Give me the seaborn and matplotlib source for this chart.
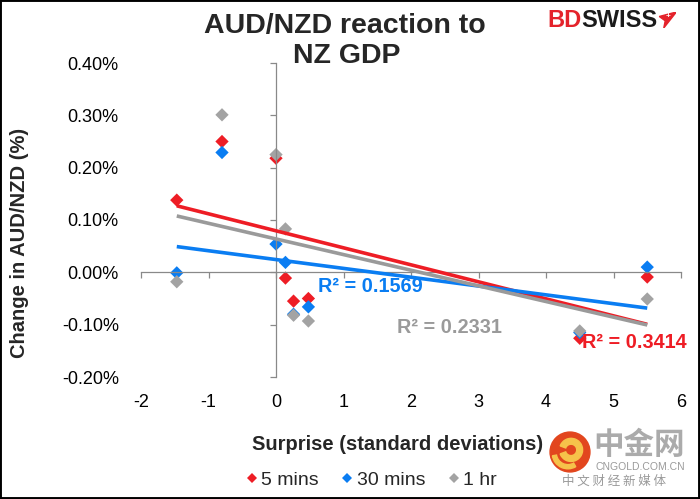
import matplotlib
matplotlib.use("Agg")
import matplotlib.pyplot as plt
from matplotlib.patches import Rectangle, Circle, Wedge, Polygon
import seaborn as sns
import pandas as pd

# ---- data ----
surprise = [-1.47, -0.8, 0.0, 0.14, 0.26, 0.48, 4.5, 5.5]
mins5 = [0.138, 0.250, 0.218, -0.011, -0.055, -0.050, -0.126, -0.009]
mins30 = [-0.001, 0.229, 0.054, 0.019, -0.080, -0.066, -0.115, 0.010]
hr1 = [-0.018, 0.301, 0.225, 0.083, -0.082, -0.093, -0.112, -0.051]
series_names = ["5 mins", "30 mins", "1 hr"]
r2_labels = ["R² = 0.3414", "R² = 0.1569", "R² = 0.2331"]
x_ticks = [-2, -1, 0, 1, 2, 3, 4, 5, 6]
y_ticks = [-0.2, -0.1, 0.0, 0.1, 0.2, 0.3, 0.4]
title_lines = ["AUD/NZD reaction to", "NZ GDP"]

colors = {"5 mins": "#EE1D25", "30 mins": "#0A7DF2", "1 hr": "#A3A3A3"}
line_colors = {"5 mins": "#EE1D25", "30 mins": "#0A7DF2", "1 hr": "#9A9A9A"}

sns.set_style("white")
plt.rcParams["font.family"] = ["Liberation Sans", "Noto Sans CJK SC", "DejaVu Sans"]

df = pd.DataFrame({
    "surprise": surprise * 3,
    "change": mins5 + mins30 + hr1,
    "series": [s for s in series_names for _ in surprise],
})

fig = plt.figure(figsize=(7.0, 4.99), dpi=100)
ax = fig.add_axes([141 / 700, 1 - 377 / 499, 540 / 700, 314 / 499])

sns.scatterplot(data=df, x="surprise", y="change", hue="series",
                palette=colors, marker="D", s=46, edgecolor="none",
                linewidth=0, ax=ax, zorder=2)

for name in series_names:
    sub = df[df["series"] == name]
    sns.regplot(data=sub, x="surprise", y="change", scatter=False, ci=None,
                truncate=True, color=line_colors[name],
                line_kws={"lw": 2.6, "zorder": 3, "solid_capstyle": "butt"}, ax=ax)

ax.set_xlim(-2, 6)
ax.set_ylim(-0.2, 0.4)
ax.set_xticks(x_ticks)
ax.set_yticks(y_ticks)

axis_col = "#898989"
for side in ["top", "right"]:
    ax.spines[side].set_visible(False)
ax.spines["left"].set_position(("data", 0))
ax.spines["bottom"].set_position(("data", 0))
for side in ["left", "bottom"]:
    ax.spines[side].set_color(axis_col)
    ax.spines[side].set_linewidth(0.9)
ax.tick_params(axis="both", direction="out", length=4, width=0.9,
               color=axis_col, labelbottom=False, labelleft=False,
               bottom=True, left=True)

# axis titles
ax.set_xlabel("Surprise (standard deviations)", fontsize=14.5, fontweight="bold")
ax.xaxis.set_label_coords((398 - 141) / 540, (377 - 435) / 314)
ax.set_ylabel("Change in AUD/NZD (%)", fontsize=14.5, fontweight="bold")
ax.yaxis.set_label_coords((29 - 141) / 540, (377 - 243) / 314)

# tick labels at the low (outer) position
secx = ax.secondary_xaxis("bottom")
secx.set_xticks(x_ticks)
secx.set_xticklabels([str(t) for t in x_ticks])
secx.spines["bottom"].set_visible(False)
secx.tick_params(length=0, labelsize=13, pad=12, labelcolor="black")

secy = ax.secondary_yaxis("left")
secy.set_yticks(y_ticks)
secy.set_yticklabels([f"{t:.2f}%" for t in y_ticks])
secy.spines["left"].set_visible(False)
secy.tick_params(length=0, labelsize=13, pad=16, labelcolor="black")

# R² labels
r2_pos = [(4.53, -0.135), (0.62, -0.028), (1.79, -0.105)]
for name, lab, (xx, yy) in zip(series_names, r2_labels, r2_pos):
    ax.text(xx, yy, lab, color=line_colors[name], fontsize=14.3, fontweight="bold",
            ha="left", va="center", zorder=4)

# legend
handles, labels = ax.get_legend_handles_labels()
ax.legend(handles, labels, loc="center", bbox_to_anchor=(370 / 700, 1 - 480 / 499),
          bbox_transform=fig.transFigure, ncol=3, frameon=False,
          handletextpad=0.05, columnspacing=1.0, markerscale=0.68,
          fontsize=14, handlelength=0.9)

# title (two centred lines)
fig.text(345 / 700, 1 - 33 / 499, title_lines[0], ha="center", va="baseline",
         fontsize=20.5, fontweight="bold")
fig.text(347 / 700, 1 - 63 / 499, title_lines[1], ha="center", va="baseline",
         fontsize=20.5, fontweight="bold")

# BDSWISS logo
t_bd = fig.text(547 / 700, 1 - 27 / 499, "BD", color="#E4232B", fontsize=17,
                fontweight="bold", ha="left", va="baseline")
t_sw = fig.text(0, 0, "SWISS", color="#1A1A1A", fontsize=17, fontweight="bold",
                ha="left", va="baseline")
fig.canvas.draw()
bb = t_bd.get_window_extent()
t_sw.set_position((bb.x1 / 700, 1 - 27 / 499))
fig.canvas.draw()
bb2 = t_sw.get_window_extent()
iax = fig.add_axes([(bb2.x1 + 1) / 700, 1 - 28 / 499, 18 / 700, 16 / 499])
iax.set_xlim(0, 1)
iax.set_ylim(0, 1)
iax.axis("off")
iax.add_patch(Polygon([(0.05, 0.72), (1.0, 1.0), (0.3, 0.0), (0.38, 0.45)],
                      closed=True, color="#E4232B"))
iax.text(0.55, 0.72, "+", color="white", fontsize=6, fontweight="bold",
         ha="center", va="center")

# watermark (cngold)
lax = fig.add_axes([549 / 700, 1 - 473 / 499, 42 / 700, 42 / 499])
lax.set_xlim(-1, 1)
lax.set_ylim(-1, 1)
lax.set_aspect("equal")
lax.axis("off")
lax.add_patch(Circle((0, 0), 0.95, color="#E2461E"))
lax.add_patch(Wedge((0.05, 0.1), 0.55, 200, 520, width=0.28, color="#F6C24A"))
lax.add_patch(Wedge((-0.1, -0.05), 0.75, 190, 300, width=0.2, color="#F6C24A"))
fig.text(639 / 700, 1 - 445 / 499, "中金网", color="#ABABAB", fontsize=22,
         fontweight="bold", ha="center", va="center", family=["Noto Sans CJK SC"])
fig.text(640 / 700, 1 - 467 / 499, "CNGOLD.COM.CN", color="#9A9A9A", fontsize=7.5,
         ha="center", va="center")
fig.text(614 / 700, 1 - 481 / 499, "中 文 财 经 新 媒 体", color="#9A9A9A", fontsize=9,
         ha="center", va="center", family=["Noto Sans CJK SC"])

# border
fig.add_artist(Rectangle((0, 0), 1, 1, transform=fig.transFigure, fill=False,
                         edgecolor="black", linewidth=2.8))

fig.savefig("out.png", dpi=100)
